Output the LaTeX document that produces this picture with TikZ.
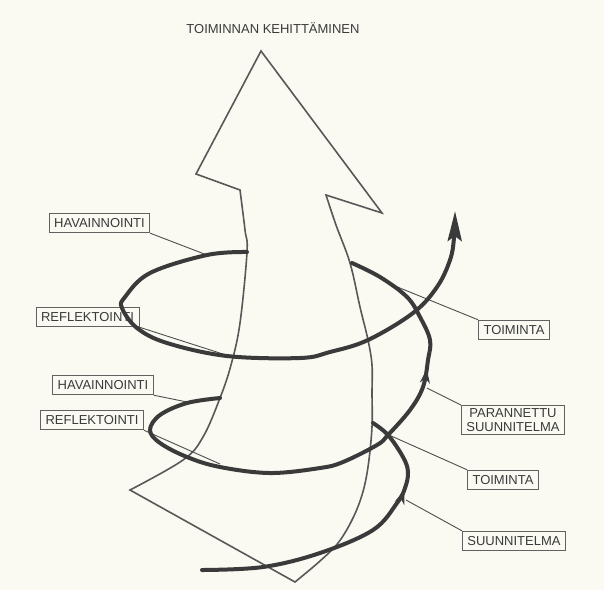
\documentclass[tikz,border=0pt]{standalone}
\usepackage{fontspec}
\setmainfont{Liberation Sans}
\usetikzlibrary{arrows.meta,decorations.markings}
\definecolor{paper}{HTML}{FAFAF3}
\definecolor{ink}{HTML}{3A3A3A}
\begin{document}
\begin{tikzpicture}[x=1pt,y=-1pt,
  spiral/.style={draw=ink, line width=4pt, line cap=round},
  bigarrow/.style={draw=ink!85, line width=1.6pt, fill=paper, line join=miter},
  labbase/.style={draw=ink!80, line width=0.9pt, fill=paper, font=\fontsize{13}{14}\selectfont, text=ink, inner xsep=5pt},
  lab/.style={labbase, inner ysep=5pt, text height=9.5pt, text depth=0pt},
  leader/.style={draw=ink!90, line width=0.9pt},
  midarrow/.style={postaction={decorate}, decoration={markings, mark=at position #1 with {\arrow{Stealth[length=14pt,width=10pt]}}}}]
\fill[paper] (0,0) rectangle (604,590);
\useasboundingbox (0,0) rectangle (604,590);

\node[font=\fontsize{13}{14}\selectfont, text=ink] (title) at (273,28) {TOIMINNAN KEHITTÄMINEN};

% big arrow
\draw[bigarrow] (261,51) -- (382,213) -- (326,195)
  -- plot[smooth, tension=0.6] coordinates {(326,195) (336,225) (350,263) (360,307) (368,340) (372,365) (372,393) (372,427) (368,467) (362,495) (352,520) (338,543) (320,561) (295,582)}
  -- (130,490)
  -- plot[smooth, tension=0.6] coordinates {(130,490) (183,460) (203,437) (220,398) (231,365) (240,323) (247,252) (245,230) (240,190)}
  -- (196,174) -- cycle;

% anchor points on the spiral
\coordinate (ch1) at (207,255);
\coordinate (cr1) at (226,355);
\coordinate (ct1) at (395,286);
\coordinate (cp1) at (427,388);
\coordinate (ch2) at (192,403);
\coordinate (cr2) at (220,464);
\coordinate (ct2) at (389,435);
\coordinate (cs1) at (406,500);

% labels
\node[lab] (h1) at (99.5,223) {HAVAINNOINTI};
\node[lab] (r1) at (87.5,317) {REFLEKTOINTI};
\node[lab] (h2) at (103,385) {HAVAINNOINTI};
\node[lab] (r2) at (92,420) {REFLEKTOINTI};
\node[lab] (t1) at (514,330) {TOIMINTA};
\node[labbase, align=center, inner ysep=3pt] (p1) at (513,420) {PARANNETTU\\SUUNNITELMA};
\node[lab] (t2) at (503,480) {TOIMINTA};
\node[lab] (s1) at (514,541) {SUUNNITELMA};

% leader lines
\draw[leader] (h1.south east) -- (ch1);
\draw[leader] (r1.south east) -- (cr1);
\draw[leader] (h2.south east) -- (ch2);
\draw[leader] (r2.south east) -- (cr2);
\draw[leader] (t1.north west) -- (ct1);
\draw[leader] (p1.north west) -- (cp1);
\draw[leader] (t2.north west) -- (ct2);
\draw[leader] (s1.north west) -- (cs1);

% spiral: lowest turn (front)
\draw[spiral, midarrow=0.74] plot[smooth, tension=0.6] coordinates {(202,570) (263,567) (320,553) (373,530) (397,503) (405,488) (408,472) (403,457) (388,435) (373,423)};
% second turn
\draw[spiral, midarrow=0.745] plot[smooth, tension=0.6] coordinates {(220,398) (187,403) (160,415) (150,430) (160,443) (187,457) (220,467) (270,473) (320,468) (343,462) (377,445) (388,435) (410,410) (423,387) (428,360) (430,340) (420,317) (407,297) (380,277) (352,263)};
% top turn
\draw[spiral, -{Stealth[length=30pt,width=14pt,inset=5pt]}] plot[smooth, tension=0.6] coordinates {(247,252) (207,255) (150,273) (125,297) (122,308) (137,328) (167,343) (227,356) (300,358) (330,352) (368,340) (413,313) (437,287) (450,260) (454,238) (455,211)};
\end{tikzpicture}
\end{document}
